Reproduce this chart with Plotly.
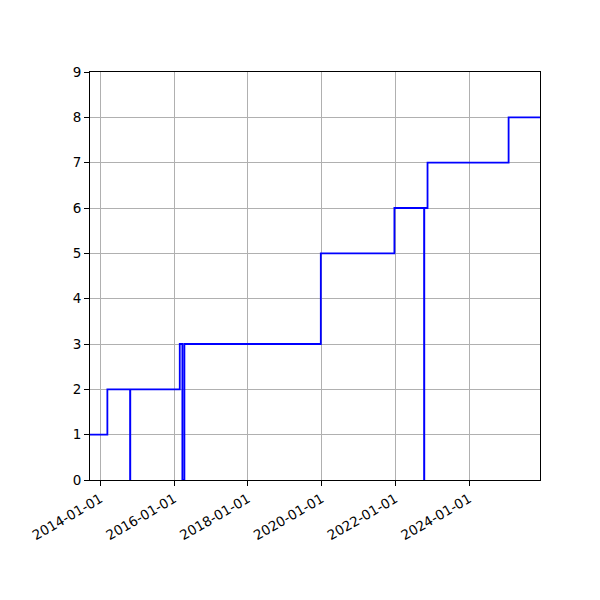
import plotly.graph_objects as go

# step series (value holds until the next date)
dates = [
    "2013-09-20", "2014-03-11", "2014-10-22", "2014-10-24",
    "2016-02-26", "2016-03-23", "2016-04-12", "2019-12-24",
    "2021-12-22", "2022-10-12", "2022-10-14", "2022-11-15",
    "2025-01-26", "2025-12-03",
]
values = [1, 2, 0, 2, 3, 0, 3, 5, 6, 0, 6, 7, 8, 8]

x_range = ["2013-09-20", "2025-12-03"]
y_ticks = list(range(0, 10))

fig = go.Figure(
    go.Scatter(
        x=dates,
        y=values,
        mode="lines",
        line={"color": "blue", "width": 1.8, "shape": "hv"},
        showlegend=False,
        hoverinfo="x+y",
    )
)

axis_common = {
    "showline": True,
    "linecolor": "black",
    "linewidth": 1,
    "mirror": True,
    "ticks": "outside",
    "ticklen": 5,
    "tickcolor": "black",
    "showgrid": True,
    "gridcolor": "#b0b0b0",
    "gridwidth": 1,
    "zeroline": False,
    "tickfont": {"family": "DejaVu Sans", "size": 13.5, "color": "black"},
}

# the page sits 8px in from the window corner, margins allow for that
fig.update_layout(
    width=600,
    height=600,
    margin={"l": 82, "r": 68, "t": 64, "b": 128},
    paper_bgcolor="white",
    plot_bgcolor="white",
    xaxis={
        **axis_common,
        "type": "date",
        "range": x_range,
        "tick0": "2014-01-01",
        "dtick": "M24",
        "tickformat": "%Y-%m-%d",
        "tickangle": -30,
    },
    yaxis={
        **axis_common,
        "range": [0, 9],
        "tickvals": y_ticks,
    },
)

fig.write_html("out.html")
